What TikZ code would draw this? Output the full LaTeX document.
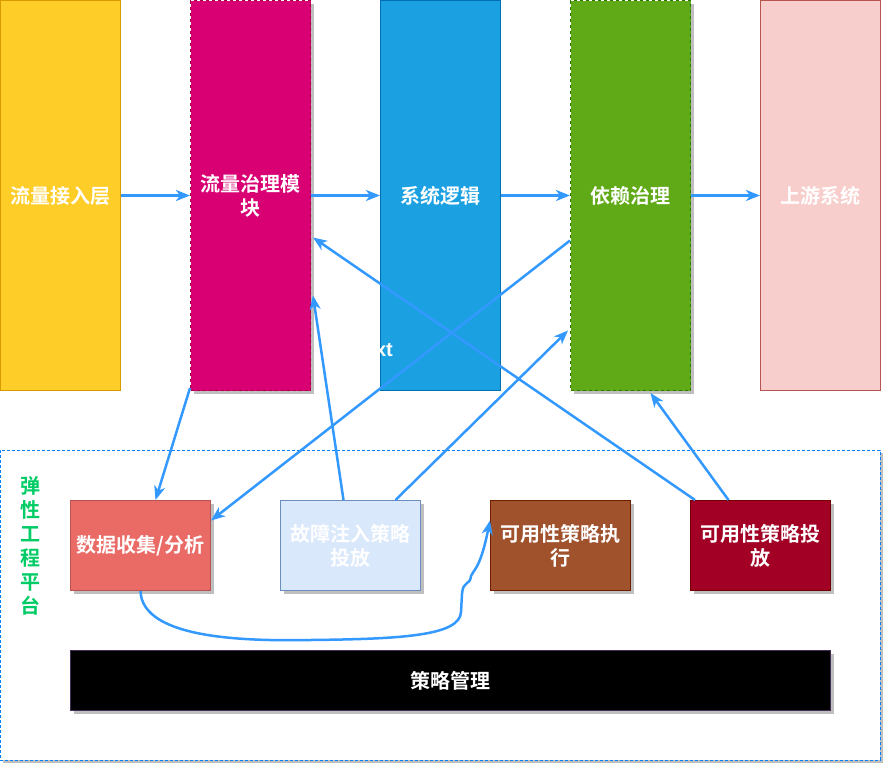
\documentclass[tikz,border=0pt]{standalone}
\usepackage{fontspec}
\setmainfont{Noto Sans CJK SC}[BoldFont={Noto Sans CJK SC Bold}]
\newfontfamily\latinfont{Liberation Sans}
\usetikzlibrary{arrows.meta}
\usetikzlibrary{shadows}

\definecolor{accFill}{HTML}{FFCD28}\definecolor{accLine}{HTML}{D79B00}
\definecolor{govFill}{HTML}{D80073}\definecolor{govLine}{HTML}{A50040}
\definecolor{sysFill}{HTML}{1BA1E2}\definecolor{sysLine}{HTML}{006EAF}
\definecolor{depFill}{HTML}{60A917}\definecolor{depLine}{HTML}{2D7600}
\definecolor{upsFill}{HTML}{F8CECC}\definecolor{upsLine}{HTML}{B85450}
\definecolor{colFill}{HTML}{EA6B66}\definecolor{colLine}{HTML}{B85450}
\definecolor{injFill}{HTML}{DAE8FC}\definecolor{injLine}{HTML}{6C8EBF}
\definecolor{exeFill}{HTML}{A0522D}\definecolor{exeLine}{HTML}{6D1F00}
\definecolor{delFill}{HTML}{A20025}\definecolor{delLine}{HTML}{6F0000}
\definecolor{manLine}{HTML}{432D57}
\definecolor{flowBlue}{HTML}{3399FF}
\definecolor{platLine}{HTML}{007FFF}
\definecolor{platText}{HTML}{00CC66}

\begin{document}
\begin{tikzpicture}[x=1pt,y=-1pt,>={Stealth[length=14pt,width=11pt,inset=4pt]}]
        \tikzset{
            box/.style={anchor=north west, inner sep=0pt, align=center, text=white,
                font=\bfseries\fontsize{20}{24}\selectfont, line width=1pt},
            layer/.style={box, minimum width=120pt, minimum height=390pt},
            tool/.style={box, minimum width=140pt, minimum height=90pt},
            shade/.style={drop shadow={shadow xshift=3pt, shadow yshift=-3pt, fill=black!25, opacity=1}},
            flow/.style={->, draw=flowBlue, line width=2.5pt}
        }
        \useasboundingbox (0,0) rectangle (883,764);

        % platform frame
        \node[shade, anchor=north west, minimum width=880pt, minimum height=310pt, fill=white,
            draw=platLine, dash pattern=on 3pt off 2pt] (platform) at (0,450) {};
        \node[align=center, text=platText, font=\bfseries\fontsize{20}{24}\selectfont] (platLabel) at (30,546) {弹\\性\\工\\程\\平\\台};

        % top layers
        \node[layer, fill=accFill, draw=accLine] (acc) at (0,0) {流量接入层};
        \node[layer, shade, fill=govFill, draw=govLine, dashed] (gov) at (190,0) {流量治理模\\块};
        \node[layer, fill=sysFill, draw=sysLine] (sys) at (380,0) {系统逻辑};
        \node[layer, shade, fill=depFill, draw=depLine, dashed] (dep) at (570,0) {依赖治理};
        \node[layer, fill=upsFill, draw=upsLine] (ups) at (760,0) {上游系统};
        \node[text=white, font=\latinfont\bfseries\fontsize{20}{24}\selectfont] (txt) at (373,350) {Text};

        % platform tools
        \node[tool, shade, fill=colFill, draw=colLine] (collect) at (70,500) {数据收集/分析};
        \node[tool, shade, fill=injFill, draw=injLine] (inject) at (280,500) {故障注入策略\\投放};
        \node[tool, shade, fill=exeFill, draw=exeLine] (exec) at (490,500) {可用性策略执\\行};
        \node[tool, shade, fill=delFill, draw=delLine] (deliver) at (690,500) {可用性策略投\\放};
        \node[box, shade, minimum width=760pt, minimum height=60pt, fill=black, draw=manLine] (manage) at (70,650) {策略管理};

        \draw[flow] (acc) -- (gov);
        \draw[flow] (gov) -- (sys);
        \draw[flow] (sys) -- (dep);
        \draw[flow] (dep) -- (ups);

        \draw[flow] ([yshift=3pt]gov.south west) -- ([xshift=15pt]collect.north);
        \draw[flow] ([yshift=-45pt]dep.west) -- ([yshift=25pt]collect.east);
        \draw[flow] ([xshift=-7pt]inject.north) -- ([xshift=2pt,yshift=-100pt]gov.east);
        \draw[flow] ([xshift=45pt]inject.north) -- ([xshift=-2pt,yshift=-135pt]dep.west);
        \draw[flow] ([xshift=5pt]deliver.north west) -- ([xshift=2pt,yshift=-42pt]gov.east);
        \draw[flow] ([xshift=-32pt]deliver.north) -- ([xshift=20pt,yshift=-2pt]dep.south);
        \draw[flow] (collect.south) .. controls (142,640) and (250,641) .. (310,640)
            .. controls (400,639) and (460,636) .. (461,612) -- (462,594)
            .. controls (463,580) and (470,586) .. (471,576)
            .. controls (473,570) and (480,570) .. ([yshift=25pt]exec.west);
    \end{tikzpicture}
\end{document}
